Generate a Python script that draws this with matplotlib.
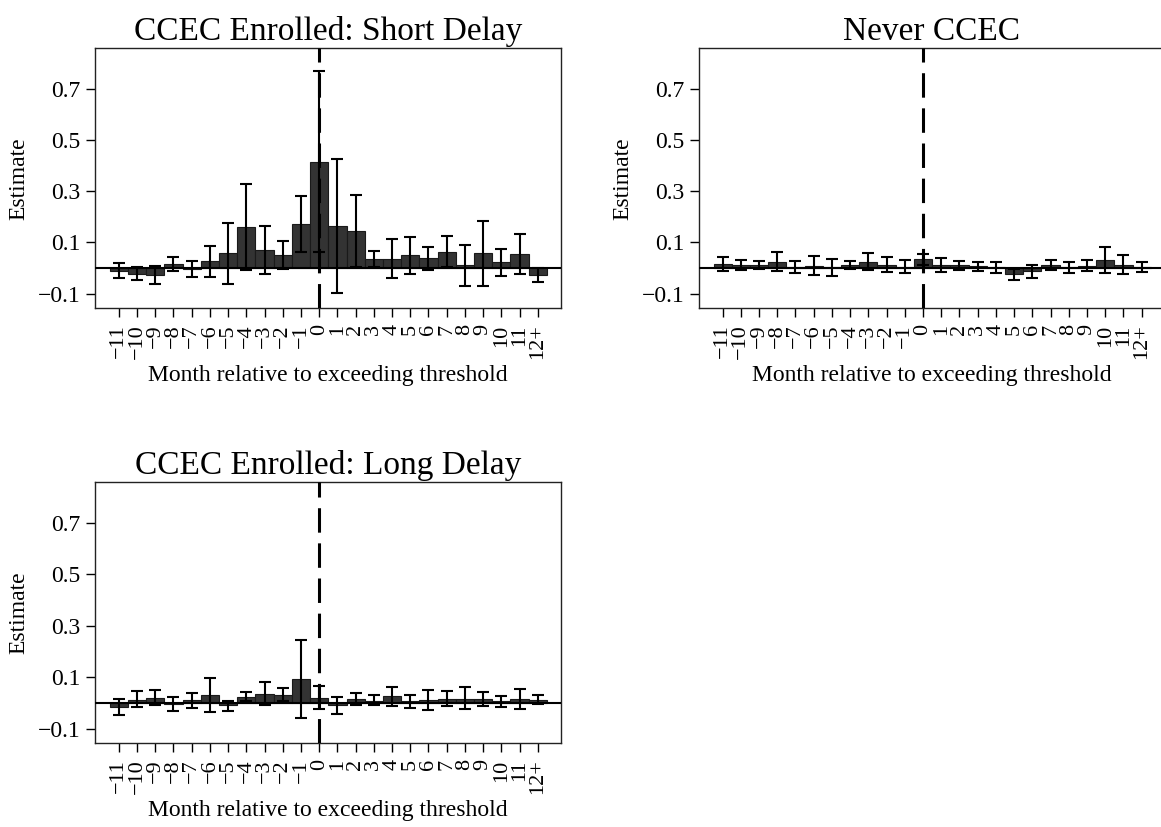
import numpy as np
import matplotlib
matplotlib.use("Agg")
import matplotlib.pyplot as plt

plt.rcParams["font.family"] = ["Liberation Serif", "DejaVu Serif"]

# months relative to exceeding the threshold
months = list(range(-11, 13))
month_labels = ["\u2212" + str(-m) if m < 0 else str(m) for m in range(-11, 12)] + ["12+"]

# CCEC Enrolled: Short Delay
short_est = [-0.013, -0.022, -0.027, 0.016, -0.003, 0.027, 0.058, 0.160, 0.070, 0.052, 0.173, 0.414,
             0.163, 0.144, 0.035, 0.035, 0.051, 0.039, 0.064, 0.011, 0.058, 0.023, 0.055, -0.028]
short_lo = [-0.040, -0.048, -0.064, -0.013, -0.036, -0.036, -0.061, -0.009, -0.025, -0.003, 0.062, 0.061,
            -0.099, 0.004, 0.004, -0.039, -0.022, -0.006, 0.003, -0.069, -0.069, -0.029, -0.025, -0.055]
short_hi = [0.019, 0.004, 0.010, 0.045, 0.029, 0.087, 0.177, 0.330, 0.165, 0.106, 0.282, 0.770,
            0.425, 0.284, 0.068, 0.113, 0.121, 0.084, 0.125, 0.091, 0.184, 0.075, 0.134, 0.000]

# Never CCEC
never_est = [0.016, 0.013, 0.012, 0.025, 0.004, 0.009, 0.004, 0.013, 0.023, 0.013, 0.006, 0.035,
             0.012, 0.012, 0.008, 0.003, -0.023, -0.013, 0.012, 0.003, 0.009, 0.032, 0.013, 0.004]
never_lo = [-0.012, -0.006, -0.003, -0.010, -0.018, -0.027, -0.029, -0.003, -0.009, -0.017, -0.018, 0.013,
            -0.016, -0.006, -0.010, -0.019, -0.045, -0.040, -0.008, -0.019, -0.013, -0.019, -0.023, -0.017]
never_hi = [0.043, 0.032, 0.029, 0.061, 0.027, 0.047, 0.036, 0.026, 0.057, 0.042, 0.030, 0.056,
            0.039, 0.029, 0.025, 0.025, -0.003, 0.014, 0.032, 0.025, 0.030, 0.084, 0.051, 0.023]

# CCEC Enrolled: Long Delay
long_est = [-0.017, 0.012, 0.019, -0.004, 0.010, 0.030, -0.010, 0.022, 0.035, 0.032, 0.094, 0.019,
            -0.008, 0.016, 0.009, 0.025, 0.006, 0.010, 0.014, 0.017, 0.014, 0.009, 0.014, 0.012]
long_lo = [-0.047, -0.017, -0.009, -0.030, -0.019, -0.036, -0.032, 0.006, -0.010, 0.008, -0.058, -0.025,
           -0.042, -0.008, -0.010, -0.012, -0.018, -0.029, -0.014, -0.025, -0.014, -0.016, -0.022, -0.006]
long_hi = [0.017, 0.045, 0.049, 0.022, 0.040, 0.096, 0.009, 0.042, 0.083, 0.058, 0.245, 0.064,
           0.023, 0.040, 0.029, 0.062, 0.029, 0.051, 0.045, 0.060, 0.044, 0.026, 0.052, 0.030]

y_ticks = [-0.1, 0.1, 0.3, 0.5, 0.7]
y_labels = ["\u22120.1", "0.1", "0.3", "0.5", "0.7"]


def draw_panel(ax, title, est, lo, hi):
    est = np.array(est)
    lo = np.array(lo)
    hi = np.array(hi)
    ax.bar(months, est, width=1.0, color="#333333", edgecolor="#1a1a1a", linewidth=0.8, zorder=2)
    ax.axhline(0, color="black", lw=1.5, zorder=3)
    ax.errorbar(months, est, yerr=[est - lo, hi - est], fmt="none", ecolor="black",
                elinewidth=1.5, capsize=4, capthick=1.5, zorder=4)
    ax.axvline(0, color="black", lw=2.2, linestyle=(0, (8, 3.5)), zorder=5)

    ax.set_xlim(-12.32, 13.26)
    ax.set_ylim(-0.157, 0.858)
    ax.set_xticks(months)
    ax.set_xticklabels(month_labels, rotation=90, fontsize=16)
    ax.set_yticks(y_ticks)
    ax.set_yticklabels(y_labels, fontsize=17)
    ax.tick_params(length=6.5, width=1.0, color="black")
    ax.tick_params(axis="x", pad=5)
    for s in ax.spines.values():
        s.set_linewidth(1.0)
        s.set_color("#222222")
    ax.set_title(title, fontsize=24, pad=6)
    ax.set_xlabel("Month relative to exceeding threshold", fontsize=17, labelpad=4)
    ax.set_ylabel("Estimate", fontsize=17, labelpad=6)


fig = plt.figure(figsize=(11.61, 8.27), dpi=100)
ax1 = fig.add_axes([0.0816, 0.6272, 0.4014, 0.3144])
ax2 = fig.add_axes([0.6017, 0.6272, 0.4014, 0.3144])
ax3 = fig.add_axes([0.0816, 0.1012, 0.4014, 0.3160])

draw_panel(ax1, "CCEC Enrolled: Short Delay", short_est, short_lo, short_hi)
draw_panel(ax2, "Never CCEC", never_est, never_lo, never_hi)
draw_panel(ax3, "CCEC Enrolled: Long Delay", long_est, long_lo, long_hi)

fig.savefig("out.png", dpi=100)
